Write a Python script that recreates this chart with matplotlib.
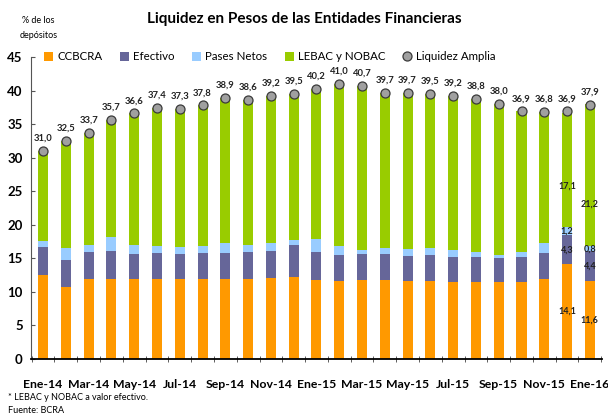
import numpy as np
import matplotlib
matplotlib.use('Agg')
import matplotlib.pyplot as plt

plt.rcParams['font.family'] = ['Lato', 'DejaVu Sans']

# meses (ene-14 a ene-16)
meses = ['Ene-14', 'Feb-14', 'Mar-14', 'Abr-14', 'May-14', 'Jun-14', 'Jul-14', 'Ago-14',
         'Sep-14', 'Oct-14', 'Nov-14', 'Dic-14', 'Ene-15', 'Feb-15', 'Mar-15', 'Abr-15',
         'May-15', 'Jun-15', 'Jul-15', 'Ago-15', 'Sep-15', 'Oct-15', 'Nov-15', 'Dic-15', 'Ene-16']

ccbcra = [12.5, 10.7, 11.9, 11.9, 11.9, 11.9, 11.9, 11.9, 11.9, 11.9, 12.0, 12.2, 11.7,
          11.6, 11.7, 11.7, 11.6, 11.6, 11.4, 11.4, 11.4, 11.4, 11.9, 14.1, 11.6]
efectivo = [4.2, 4.0, 4.0, 4.2, 3.7, 3.9, 3.7, 3.9, 3.9, 4.0, 4.1, 4.8, 4.2,
            3.9, 3.9, 3.9, 3.7, 3.9, 3.8, 3.8, 3.6, 3.8, 3.9, 4.3, 4.4]
pases = [0.9, 1.8, 1.1, 2.1, 1.4, 1.0, 1.1, 1.0, 1.5, 1.1, 1.2, 0.7, 2.0,
         1.3, 0.6, 0.9, 1.1, 1.0, 1.0, 0.7, 0.5, 0.7, 1.5, 1.2, 0.8]
lebac = [13.4, 16.0, 16.7, 17.5, 19.6, 20.6, 20.6, 21.0, 21.6, 21.6, 21.9, 21.8, 22.3,
         24.2, 24.5, 23.2, 23.3, 23.0, 23.0, 22.9, 22.5, 21.0, 19.5, 17.1, 21.2]
liquidez = [31.0, 32.5, 33.7, 35.7, 36.6, 37.4, 37.3, 37.8, 38.9, 38.6, 39.2, 39.5, 40.2,
            41.0, 40.7, 39.7, 39.7, 39.5, 39.2, 38.8, 38.0, 36.9, 36.8, 36.9, 37.9]

c_cc = '#FF9900'
c_ef = '#666699'
c_pa = '#99CCFF'
c_le = '#99CC00'

x = np.arange(len(meses))
b1 = np.array(ccbcra)
b2 = b1 + np.array(efectivo)
b3 = b2 + np.array(pases)

fig = plt.figure(figsize=(6.08, 4.18), dpi=100)
ax = fig.add_axes([0.051, 0.1423, 0.939, 0.7207])

w = 0.44
h1 = ax.bar(x, ccbcra, w, color=c_cc, label='CCBCRA')
h2 = ax.bar(x, efectivo, w, bottom=b1, color=c_ef, label='Efectivo')
h3 = ax.bar(x, pases, w, bottom=b2, color=c_pa, label='Pases Netos')
h4 = ax.bar(x, lebac, w, bottom=b3, color=c_le, label='LEBAC y NOBAC')
h5, = ax.plot(x, liquidez, 'o', color='#A0A0A0', markeredgecolor='#3A3A3A',
              markeredgewidth=0.9, markersize=6.5, label='Liquidez Amplia')

def coma(v):
    return f'{v:.1f}'.replace('.', ',')

for xi, v in zip(x, liquidez):
    ax.annotate(coma(v), (xi, v), xytext=(0, 6), textcoords='offset points',
                ha='center', va='bottom', fontsize=6.8, fontweight='bold', color='#222222')

# etiquetas de los dos ultimos meses
for i in [len(meses) - 2, len(meses) - 1]:
    ax.text(x[i], ccbcra[i] / 2, coma(ccbcra[i]), ha='center', va='center',
            fontsize=6.5, fontweight='bold', color='#222222')
    ax.text(x[i], b1[i] + efectivo[i] / 2, coma(efectivo[i]), ha='center', va='center',
            fontsize=6.5, fontweight='bold', color='#222222')
    ax.text(x[i], b2[i] + pases[i] / 2, coma(pases[i]), ha='center', va='center',
            fontsize=6.5, fontweight='bold', color='#222222')
    ax.text(x[i], b3[i] + 6.2, coma(lebac[i]), ha='center', va='center',
            fontsize=6.5, fontweight='bold', color='#222222')

ax.set_xlim(-0.53, len(meses) - 0.47)
ax.set_ylim(0, 45)
ax.set_yticks(range(0, 46, 5))
ax.set_xticks(x[::2])
ax.set_xticklabels(meses[::2])
ax.set_xticks(np.arange(len(meses) + 1) - 0.5, minor=True)

for s in ['top', 'right']:
    ax.spines[s].set_visible(False)
ax.spines['left'].set_color('#555555')
ax.spines['bottom'].set_color('black')
ax.spines['bottom'].set_linewidth(1.3)

ax.tick_params(axis='y', direction='in', length=3, labelsize=9.5, pad=6, color='#555555')
ax.tick_params(axis='x', which='major', length=0, labelsize=8.8, pad=15)
ax.tick_params(axis='x', which='minor', direction='inout', length=4, color='#444444')
for t in ax.get_yticklabels() + ax.get_xticklabels():
    t.set_fontweight('bold')

ax.legend(handles=[h1, h2, h3, h4, h5], loc='upper left', ncol=5, frameon=False,
          fontsize=8.3, handlelength=0.8, handleheight=0.8, handletextpad=0.35,
          columnspacing=1.5, bbox_to_anchor=(0.015, 1.035), borderaxespad=0.0)

fig.text(0.5, 0.955, 'Liquidez en Pesos de las Entidades Financieras', ha='center',
         va='center', fontsize=11, fontweight='bold')
fig.text(0.063, 0.952, '% de los', ha='center', va='center', fontsize=6.5)
fig.text(0.063, 0.915, 'depósitos', ha='center', va='center', fontsize=6.5)
fig.text(0.013, 0.05, '* LEBAC y NOBAC a valor efectivo.', ha='left', va='center', fontsize=6.5)
fig.text(0.013, 0.017, 'Fuente: BCRA', ha='left', va='center', fontsize=6.5)

plt.savefig('out.png', dpi=100)
